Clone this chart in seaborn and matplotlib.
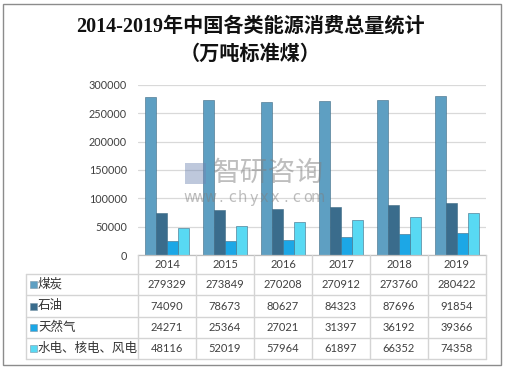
import matplotlib
matplotlib.use("Agg")
import matplotlib.pyplot as plt
import seaborn as sns
import pandas as pd
from matplotlib.patches import Rectangle
from matplotlib.lines import Line2D

years = ["2014", "2015", "2016", "2017", "2018", "2019"]
series_names = ["煤炭", "石油", "天然气", "水电、核电、风电"]
coal = [279329, 273849, 270208, 270912, 273760, 280422]
oil = [74090, 78673, 80627, 84323, 87696, 91854]
gas = [24271, 25364, 27021, 31397, 36192, 39366]
clean = [48116, 52019, 57964, 61897, 66352, 74358]
yticks = [0, 50000, 100000, 150000, 200000, 250000, 300000]
colors = ["#5E9FC2", "#3A6C8C", "#1CA7E6", "#58D9F3"]
title_line1 = "2014-2019年中国各类能源消费总量统计"
title_line2 = "（万吨标准煤）"

values = [coal, oil, gas, clean]
df = pd.DataFrame({
    "year": years * 4,
    "series": [s for s in series_names for _ in years],
    "value": coal + oil + gas + clean,
})

sns.set_theme(style="white")
plt.rcParams['font.family'] = ['Noto Sans CJK SC', 'DejaVu Sans']

W, H = 506, 370
fig = plt.figure(figsize=(W / 100, H / 100), dpi=100)

def fx(px):
    return px / W

def fy(py):
    return 1 - py / H

ax_left, ax_right, ax_top, ax_bot = 138, 486, 85, 255
ax = fig.add_axes([fx(ax_left), fy(ax_bot), fx(ax_right - ax_left), (ax_bot - ax_top) / H])
sns.barplot(data=df, x="year", y="value", hue="series", palette=colors,
            hue_order=series_names, order=years, width=0.75, ax=ax,
            legend=False, saturation=1, edgecolor="#3d6a84", linewidth=0.4)
ax.set_ylim(0, 300000)
ax.set_xlim(-0.5, 5.5)
ax.set_yticks(yticks)
ax.set_yticklabels([str(v) for v in yticks], fontsize=7.8, color="#404040", family="Lato")
ax.tick_params(axis="y", length=0, pad=8)
ax.set_xticks([])
ax.set_xlabel("")
ax.set_ylabel("")
ax.grid(axis="y", color="#D9D9D9", linewidth=0.9)
ax.set_axisbelow(True)
for s in ["top", "right", "left"]:
    ax.spines[s].set_visible(False)
ax.spines["bottom"].set_color("#BFBFBF")
ax.spines["bottom"].set_linewidth(0.9)

# watermark
wm_color = "#7f7f7f"
fig.text(fx(268), fy(173), "智研咨询", fontsize=20, color=wm_color, alpha=0.5,
         ha="center", va="center", zorder=10)
url = "www.chyxx.com"
x0, x1 = 189, 318
for k, ch in enumerate(url):
    fig.text(fx(x0 + (x1 - x0) * k / (len(url) - 1)), fy(198), ch, fontsize=10.5,
             color=wm_color, alpha=0.5, ha="center", va="center",
             family="DejaVu Sans", zorder=10)
fig.patches.append(Rectangle((fx(185), fy(184)), fx(21), 21 / H, transform=fig.transFigure,
                             facecolor="#6f86b3", alpha=0.45, edgecolor="none", zorder=10))

# data table
line_c = "#D4D4D4"
col_edges = [138 + i * 58 for i in range(7)]
row_edges = [274, 295, 317, 338, 359]
tbl_left = 26

def hline(y, xa, xb):
    fig.lines.append(Line2D([fx(xa), fx(xb)], [fy(y), fy(y)], transform=fig.transFigure,
                            color=line_c, linewidth=1.0))

def vline(x, ya, yb):
    fig.lines.append(Line2D([fx(x), fx(x)], [fy(ya), fy(yb)], transform=fig.transFigure,
                            color=line_c, linewidth=1.0))

for y in row_edges:
    hline(y, tbl_left, col_edges[-1])
vline(tbl_left, row_edges[0], row_edges[-1])
for x in col_edges:
    vline(x, ax_bot, row_edges[-1])

for i, yr in enumerate(years):
    cx = (col_edges[i] + col_edges[i + 1]) / 2
    fig.text(fx(cx), fy(265), yr, fontsize=8, color="#404040", ha="center", va="center",
             family="Lato")

for r, (name, vals, c) in enumerate(zip(series_names, values, colors)):
    cy = (row_edges[r] + row_edges[r + 1]) / 2
    fig.patches.append(Rectangle((fx(30), fy(cy + 3.5)), fx(7), 7 / H, transform=fig.transFigure,
                                 facecolor=c, edgecolor="#7a98aa", linewidth=0.4))
    fig.text(fx(38), fy(cy), name, fontsize=9, color="#333333", ha="left", va="center",
             fontweight="medium")
    for i, v in enumerate(vals):
        cx = (col_edges[i] + col_edges[i + 1]) / 2
        fig.text(fx(cx), fy(cy), str(v), fontsize=8, color="#404040", ha="center",
                 va="center", family="Lato")

# title
title_fam = ['Liberation Serif', 'Noto Sans CJK SC']
fig.text(fx(250), fy(27), title_line1, fontsize=14.5, family=title_fam,
         fontweight="bold", color="#111111", ha="center", va="center")
fig.text(fx(250), fy(55), title_line2, fontsize=14.5, fontweight="bold", family=title_fam,
         color="#111111", ha="center", va="center")

# outer border
fig.patches.append(Rectangle((fx(3.5), fy(365)), fx(497.5), 361.5 / H, transform=fig.transFigure,
                             facecolor="none", edgecolor="#8C8C8C", linewidth=1.0))

fig.savefig("out.png", dpi=100)
